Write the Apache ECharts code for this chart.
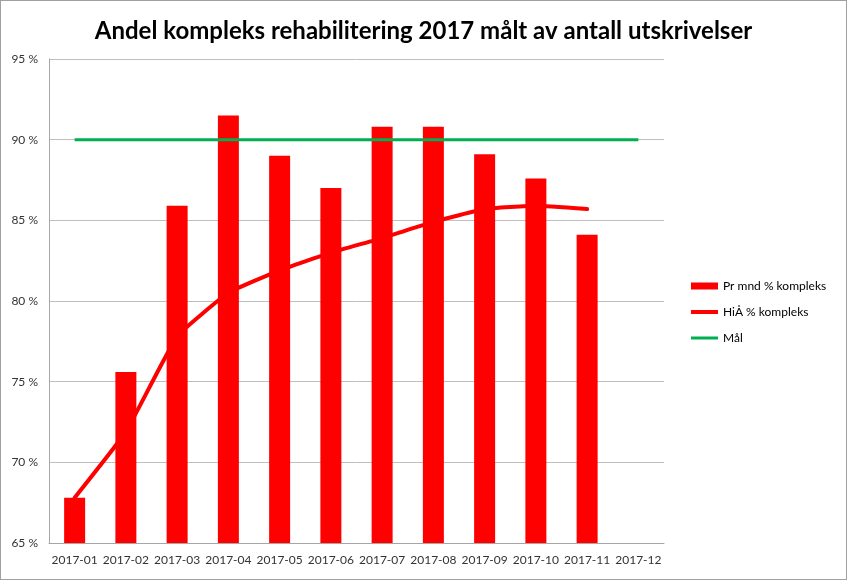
<!DOCTYPE html>
<html>
<head>
<meta charset="utf-8">
<script src="https://cdn.jsdelivr.net/npm/echarts@6/dist/echarts.min.js"></script>
<style>
html,body{margin:0;padding:0;background:#fff;}
#wrap{width:847px;height:580px;box-sizing:border-box;border:1px solid #a0a0a0;position:relative;}
#chart{width:845px;height:578px;}
</style>
</head>
<body>
<div id="wrap"><div id="chart"></div></div>
<script>
const titleText = 'Andel kompleks rehabilitering 2017 målt av antall utskrivelser';
const categories = ['2017-01','2017-02','2017-03','2017-04','2017-05','2017-06','2017-07','2017-08','2017-09','2017-10','2017-11','2017-12'];
const prMnd = [67.8, 75.6, 85.9, 91.5, 89.0, 87.0, 90.8, 90.8, 89.1, 87.6, 84.1, null];
const hiaa = [67.8, 71.9, 77.8, 80.5, 81.9, 83.0, 83.9, 84.9, 85.7, 85.9, 85.7, null];
const maal = [90, 90, 90, 90, 90, 90, 90, 90, 90, 90, 90, 90];
const seriesNames = ['Pr mnd % kompleks', 'HiÅ % kompleks', 'Mål'];

const chart = echarts.init(document.getElementById('chart'), null, {renderer:'canvas'});
const font = 'Lato, "Liberation Sans", sans-serif';
chart.setOption({
  animation: false,
  title: {
    text: titleText,
    left: 'center',
    top: 13,
    textStyle: {fontFamily: font, fontWeight: 'bold', fontSize: 24, color: '#000'}
  },
  legend: {
    orient: 'vertical',
    left: 685,
    top: 274,
    itemWidth: 27,
    itemHeight: 7,
    itemGap: 14,
    textStyle: {fontFamily: font, fontSize: 12, color: '#000'},
    data: [
      {name: seriesNames[0], icon: 'rect'},
      {name: seriesNames[1], icon: 'path://M0,0L27,0L27,4L0,4Z'},
      {name: seriesNames[2], icon: 'path://M0,0L27,0L27,3L0,3Z'}
    ]
  },
  grid: {left: 48, right: 182, top: 58, bottom: 36},
  xAxis: {
    type: 'category',
    data: categories,
    axisLine: {lineStyle: {color: '#a6a6a6', width: 1}},
    axisTick: {show: false},
    axisLabel: {fontFamily: font, fontSize: 12, color: '#333', margin: 11, interval: 0}
  },
  yAxis: {
    type: 'value',
    min: 65, max: 95, interval: 5,
    axisLine: {show: true, lineStyle: {color: '#a6a6a6', width: 1}},
    axisTick: {show: false},
    splitLine: {lineStyle: {color: '#bfbfbf', width: 1}},
    axisLabel: {fontFamily: font, fontSize: 12, color: '#333', margin: 11, formatter: '{value} %'}
  },
  series: [
    {
      name: seriesNames[0], type: 'bar', data: prMnd, barWidth: 21,
      itemStyle: {color: '#ff0000'}, z: 2
    },
    {
      name: seriesNames[1], type: 'line', data: hiaa, smooth: 0.12,
      symbol: 'none', showSymbol: false,
      lineStyle: {color: '#ff0000', width: 4, cap: 'round'},
      itemStyle: {color: '#ff0000'}, z: 3
    },
    {
      name: seriesNames[2], type: 'line', data: maal,
      symbol: 'none', showSymbol: false,
      lineStyle: {color: '#00b050', width: 3},
      itemStyle: {color: '#00b050'}, z: 4
    }
  ]
});
</script>
</body>
</html>
